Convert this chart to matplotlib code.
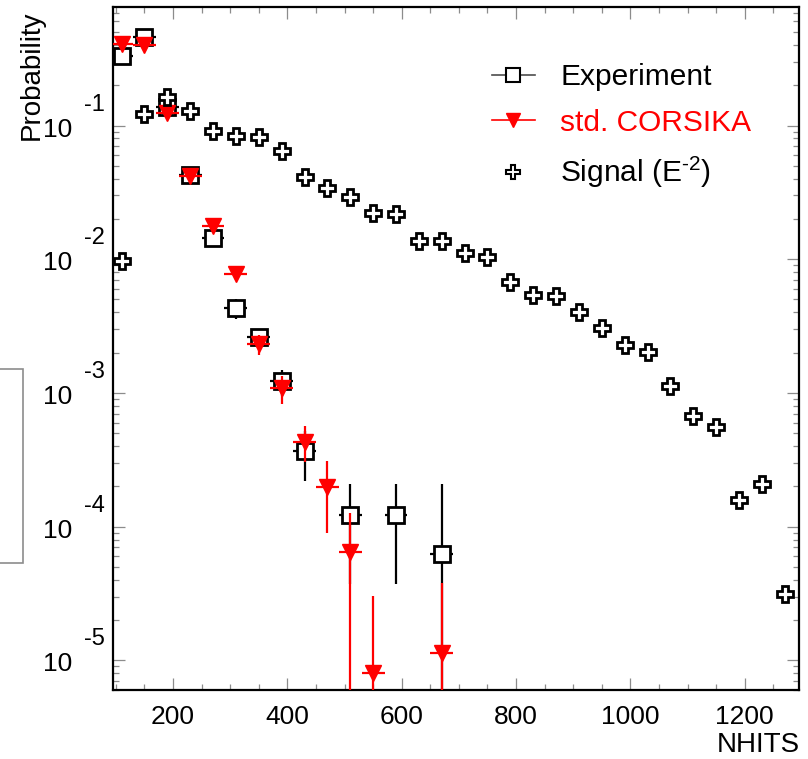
import numpy as np
import matplotlib
matplotlib.use("Agg")
import matplotlib.pyplot as plt
from matplotlib.lines import Line2D
from matplotlib.patches import Rectangle
from matplotlib.ticker import FixedLocator, LogLocator, NullFormatter, MultipleLocator

plt.rcParams['font.family'] = ['Liberation Sans', 'DejaVu Sans']
plt.rcParams['mathtext.fontset'] = 'custom'
plt.rcParams['mathtext.rm'] = 'Liberation Sans'
plt.rcParams['mathtext.it'] = 'Liberation Sans'

# NHITS bin centres
exp_x = [110, 150, 190, 230, 270, 310, 350, 390, 430, 510, 590, 670]
exp_y = [0.333, 0.457, 0.138, 0.0427, 0.0145, 0.0043, 0.00264, 0.00122, 3.7e-4, 1.22e-4, 1.22e-4, 6.2e-5]
exp_err = [0.01, 0.012, 0.006, 0.003, 0.0015, 7e-4, 3e-4, 2.7e-4, 1.5e-4, 8.5e-5, 8.5e-5, 1.45e-4]

mc_x = [110, 150, 190, 230, 270, 310, 350, 390, 430, 470, 510, 550, 670]
mc_y = [0.408, 0.401, 0.1236, 0.042, 0.0177, 0.00776, 0.00233, 0.00108, 4.32e-4, 1.99e-4, 6.5e-5, 8.1e-6, 1.13e-5]
mc_err = [0.005, 0.005, 0.003, 0.001, 8e-4, 4e-4, 4e-4, 2.5e-4, 1.3e-4, 1.1e-4, 6.2e-5, 2.2e-5, 2.64e-5]

sig_x = list(range(110, 1271, 40))
sig_y = [0.0097, 0.122, 0.163, 0.129, 0.0911, 0.0841, 0.0826, 0.0646, 0.0415, 0.0339,
         0.0291, 0.0223, 0.0218, 0.0138, 0.0137, 0.0112, 0.01045, 0.0068, 0.0054, 0.00534,
         0.00402, 0.00308, 0.00229, 0.00204, 0.00112, 6.73e-4, 5.6e-4, 1.58e-4, 2.09e-4, 3.12e-5]

y_decades = [-1, -2, -3, -4, -5]
x_ticks = [200, 400, 600, 800, 1000, 1200]


def asym(vals, errs):
    vals = np.asarray(vals)
    errs = np.asarray(errs)
    lo = np.minimum(errs, vals * 0.999999)
    return [lo, errs]


fig = plt.figure(figsize=(8.08, 7.59), dpi=100)
ax = fig.add_axes([113 / 808, 1 - 690 / 759, 686 / 808, 683 / 759])
ax.set_yscale('log')

ax.errorbar(exp_x, exp_y, yerr=asym(exp_y, exp_err), xerr=20, fmt='s', ms=12,
            mfc='white', mec='black', mew=2, ecolor='black', elinewidth=1.6,
            capsize=0, zorder=3)
ax.errorbar(mc_x, mc_y, yerr=asym(mc_y, mc_err), xerr=20, fmt='v', ms=12,
            mfc='red', mec='red', ecolor='red', elinewidth=1.6, capsize=0, zorder=4)
ax.plot(sig_x, sig_y, 'P', ms=11, mfc='white', mec='black', mew=2,
        ls='none', zorder=5)

ax.set_xlim(95, 1295)
ax.set_ylim(6.0e-6, 0.77)

for s in ax.spines.values():
    s.set_linewidth(1.6)

ax.xaxis.set_major_locator(FixedLocator(x_ticks))
ax.xaxis.set_minor_locator(MultipleLocator(50))
ax.yaxis.set_major_locator(FixedLocator([10.0 ** d for d in y_decades]))
ax.yaxis.set_minor_locator(LogLocator(base=10, subs=np.arange(2, 10)))
ax.yaxis.set_minor_formatter(NullFormatter())
ax.tick_params(which='both', direction='in', top=True, right=True, color='0.55', width=0.9)
ax.tick_params(which='major', length=8.5)
ax.tick_params(which='minor', length=4.5)
ax.tick_params(axis='x', labelsize=19, pad=11)
ax.tick_params(axis='y', labelleft=False)

# ROOT style y labels: "10" with exponent set off above right
for d in y_decades:
    ax.annotate('10', xy=(0, 10.0 ** d), xycoords=('axes fraction', 'data'),
                xytext=(-41, -4), textcoords='offset pixels', ha='right', va='center',
                fontsize=19)
    ax.annotate(str(d), xy=(0, 10.0 ** d), xycoords=('axes fraction', 'data'),
                xytext=(-29, 21), textcoords='offset pixels', ha='left', va='center',
                fontsize=17)

handles = [
    Line2D([], [], color='0.3', marker='s', ms=10, mfc='white', mec='black', mew=1.5, lw=1.2),
    Line2D([], [], color='red', marker='v', ms=10, mfc='red', mec='red', lw=1.2),
    Line2D([], [], color='black', marker='P', ms=10, mfc='white', mec='black', mew=1.5, ls='none'),
]
leg = ax.legend(handles, ['Experiment', 'std. CORSIKA', 'Signal (E$^{\u20102}$)'],
                loc='upper left', bbox_to_anchor=(0.552, 0.918), frameon=False,
                fontsize=21.5, handlelength=1.45, handletextpad=0.85, labelspacing=0.6,
                borderpad=0, borderaxespad=0)
leg.get_texts()[1].set_color('red')

fig.text(32 / 808, 1 - 10 / 759, 'Probability', rotation=90, ha='center', va='top', fontsize=20)
fig.text(800 / 808, 1 - 745 / 759, 'NHITS', ha='right', va='center', fontsize=20)

fig.patches.append(Rectangle((-0.02, 1 - 563 / 759), 0.02 + 23 / 808, 194 / 759,
                             transform=fig.transFigure, fill=False, edgecolor='0.55', lw=1.2))

fig.savefig('out.png', dpi=100)
